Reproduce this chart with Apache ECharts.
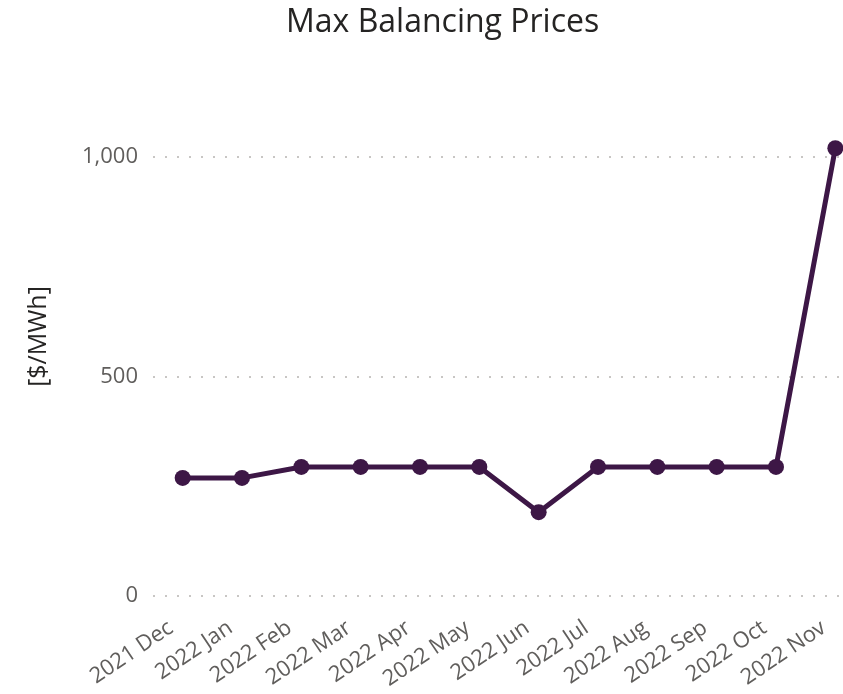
<!DOCTYPE html>
<html>
<head>
<meta charset="utf-8">
<script src="https://cdn.jsdelivr.net/npm/echarts@6/dist/echarts.min.js"></script>
<style>
  html, body { margin: 0; padding: 0; background: #fff; }
  #chart { width: 843px; height: 694px; }
</style>
</head>
<body>
<div id="chart"></div>
<script>
var months = ['2021 Dec', '2022 Jan', '2022 Feb', '2022 Mar', '2022 Apr', '2022 May',
              '2022 Jun', '2022 Jul', '2022 Aug', '2022 Sep', '2022 Oct', '2022 Nov'];
var maxPrices = [269, 269, 294, 294, 294, 294, 191, 294, 294, 294, 294, 1020];
var yTicks = [0, 500, 1000];

var chart = echarts.init(document.getElementById('chart'));

var font = '"Segoe UI", "Open Sans", "DejaVu Sans", sans-serif';

var option = {
  animation: false,
  title: {
    text: 'Max Balancing Prices',
    left: 281,
    top: 2,
    textStyle: {
      fontFamily: font,
      fontSize: 32,
      fontWeight: 'normal',
      color: '#252423'
    }
  },
  grid: {
    left: 153,
    right: -22,
    top: 157,
    bottom: 98,
    outerBoundsMode: 'none',
    containLabel: false
  },
  xAxis: {
    type: 'category',
    data: months,
    boundaryGap: true,
    axisLine: { show: false },
    axisTick: { show: false },
    axisLabel: {
      rotate: 34,
      margin: 22,
      padding: [0, 14, 0, 0],
      fontFamily: font,
      fontSize: 22,
      color: '#605E5C',
      interval: 0
    }
  },
  yAxis: {
    type: 'value',
    min: yTicks[0],
    max: yTicks[yTicks.length - 1],
    interval: 500,
    name: '[$/MWh]',
    nameLocation: 'middle',
    nameGap: 102,
    nameRotate: 90,
    nameTextStyle: {
      fontFamily: font,
      fontSize: 25,
      color: '#252423',
      padding: [0, 0, 0, 80]
    },
    axisLine: { show: false },
    axisTick: { show: false },
    axisLabel: {
      margin: 15,
      fontFamily: font,
      fontSize: 22,
      color: '#605E5C',
      formatter: function (v) { return v.toLocaleString('en-US'); }
    },
    splitLine: {
      lineStyle: { color: '#C8C6C4', type: [2, 10], width: 2 }
    }
  },
  series: [
    {
      type: 'line',
      data: maxPrices,
      clip: false,
      symbol: 'circle',
      symbolSize: 16,
      lineStyle: { color: '#3D1746', width: 5 },
      itemStyle: { color: '#3D1746' }
    }
  ]
};

chart.setOption(option);
</script>
</body>
</html>
